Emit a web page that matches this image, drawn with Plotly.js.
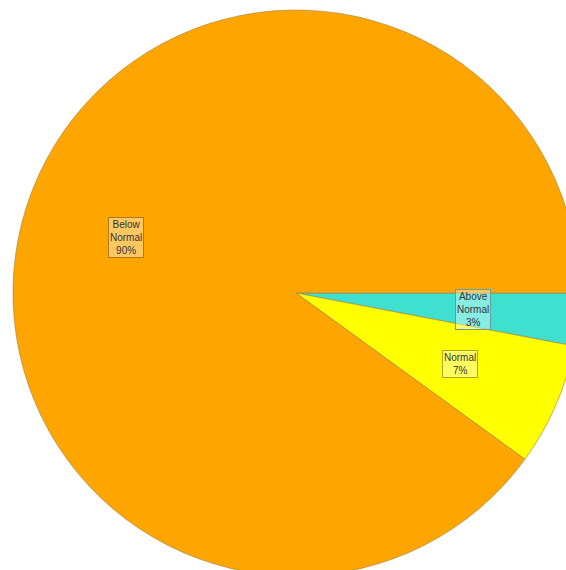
<!DOCTYPE html>
<html>
<head>
<meta charset="utf-8">
<script src="https://cdn.plot.ly/plotly-3.0.1.min.js"></script>
<style>
html,body{margin:0;padding:0;overflow:hidden;background:#fff;width:566px;height:570px;}
#chart{width:590px;height:590px;}
</style>
</head>
<body>
<div id="chart"></div>
<script>
const categories = ["Above Normal", "Normal", "Below Normal"];
const percents = [3, 7, 90];
const sliceColors = ["#40E0D0", "#FFFF00", "#FFA500"];
const boxBorders = ["#6a9e94", "#b0a820", "#b07a1a"];
const labelLines = [["Above", "Normal"], ["Normal"], ["Below", "Normal"]];

const total = percents.reduce((a, b) => a + b, 0);
const annotations = [];
let cum = 0;
for (let i = 0; i < percents.length; i++) {
  const mid = (cum + percents[i] / 2) / total * 2 * Math.PI; // clockwise from 3 o'clock
  cum += percents[i];
  const rr = 0.63 * 0.5;
  annotations.push({
    xref: "paper", yref: "paper",
    x: 0.5 + rr * Math.cos(mid),
    y: 0.5 - rr * Math.sin(mid),
    text: labelLines[i].concat([percents[i] + "%"]).join("<br>"),
    showarrow: false,
    font: {family: "Liberation Sans, Arial, sans-serif", size: 10, color: "#333333"},
    bgcolor: "rgba(255,255,255,0.38)",
    bordercolor: boxBorders[i],
    borderwidth: 1,
    borderpad: 1,
    align: "center",
    xanchor: "center", yanchor: "middle"
  });
}

const data = [{
  type: "pie",
  labels: categories,
  values: percents,
  sort: false,
  direction: "clockwise",
  rotation: 90,
  textinfo: "none",
  hoverinfo: "none",
  marker: {colors: sliceColors, line: {color: "#a08040", width: 0.6}},
  showlegend: false
}];

const layout = {
  width: 590, height: 590,
  margin: {l: 13, r: 11, t: 10, b: 14, pad: 0},
  paper_bgcolor: "#ffffff",
  plot_bgcolor: "#ffffff",
  showlegend: false,
  annotations: annotations
};

Plotly.newPlot("chart", data, layout, {staticPlot: true, displayModeBar: false});
</script>
</body>
</html>
